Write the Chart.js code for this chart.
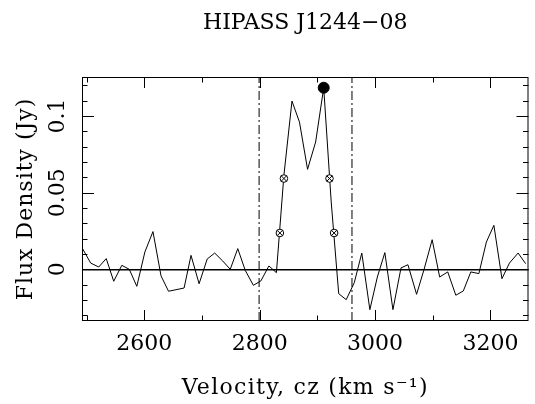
<!DOCTYPE html>
<html><head><meta charset="utf-8">
<script src="https://cdn.jsdelivr.net/npm/chart.js@4.4.0/dist/chart.umd.min.js"></script>
<style>html,body{margin:0;padding:0;background:#fff;}#wrap{width:535px;height:404px;}</style>
</head><body>
<div id="wrap"><canvas id="c" width="535" height="404"></canvas></div>
<script>
// ---- data ----
const velocities = [2492,2507,2521,2534,2547,2561,2574,2587,2601,2615,2629,2642,2655,2669,2681,2695,2709,2722,2736,2749,2762,2775,2789,2802,2816,2829,2842,2856,2869,2883,2897,2911,2924,2937,2950,2964,2977,2991,3004,3017,3031,3045,3057,3072,3085,3099,3112,3126,3140,3153,3166,3180,3193,3206,3220,3233,3248,3261];
const fluxes = [0.0141,0.0041,0.0015,0.0070,-0.0078,0.0026,0.0000,-0.0111,0.0113,0.0246,-0.0043,-0.0143,-0.0133,-0.0122,0.0091,-0.0094,0.0067,0.0106,0.0054,0.0000,0.0135,-0.0007,-0.0104,-0.0076,0.0022,-0.0022,0.0613,0.1097,0.0960,0.0652,0.0830,0.1184,0.0439,-0.0159,-0.0198,-0.0087,0.0106,-0.0263,-0.0050,0.0109,-0.0263,0.0009,0.0030,-0.0163,0.0000,0.0193,-0.0050,-0.0017,-0.0169,-0.0141,-0.0017,-0.0028,0.0178,0.0287,-0.0061,0.0041,0.0106,0.0037];
const peakVel = [2911];
const peakFlux = [0.1184];
const widthMarkVel = [2835,2842,2921,2929];
const widthMarkFlux = [0.0237,0.0592,0.0592,0.0237];
const rangeLimits = [2799,2960];
const xTickValues = [2600,2800,3000,3200];
const xTickLabels = ['2600','2800','3000','3200'];
const xMinorValues = [2500,2700,2900,3100];
const yTickValues = [0,0.05,0.1];
const yTickLabels = ['0','0.05','0.1'];
const yMinorValues = [-0.03,-0.02,-0.01,0.01,0.02,0.03,0.04,0.06,0.07,0.08,0.09,0.11,0.12];
const xMin = 2492, xMax = 3266, yMin = -0.0337, yMax = 0.1254;
const chartTitle = 'HIPASS J1244\u221208';
const xTitle = 'Velocity, cz (km s\u207B\u00B9)';
const yTitle = 'Flux Density (Jy)';

const FONT = 'DejaVu Serif';
const FS = 22;
const pts = (xs, ys) => xs.map((v, i) => ({x: v, y: ys[i]}));
const spacing = {[xTitle]: '1.3px', [yTitle]: '1px'};

const framePlugin = {
  id: 'frame',
  beforeInit(chart) {
    const ctx = chart.ctx;
    const orig = ctx.fillText;
    ctx.fillText = function (t, ...rest) {
      this.letterSpacing = spacing[t] || '0px';
      orig.call(this, t, ...rest);
      this.letterSpacing = '0px';
    };
  },
  afterDatasetsDraw(chart) {
    const {ctx, chartArea: a, scales: {x, y}} = chart;
    ctx.save();
    ctx.strokeStyle = '#000';
    ctx.lineWidth = 1;
    ctx.strokeRect(a.left + 0.5, a.top + 0.5, a.width - 1, a.height - 1);
    ctx.beginPath();
    const xt = (v, L) => {
      const p = Math.round(x.getPixelForValue(v)) + 0.5;
      ctx.moveTo(p, a.bottom); ctx.lineTo(p, a.bottom - L);
      ctx.moveTo(p, a.top); ctx.lineTo(p, a.top + L);
    };
    const yt = (v, L) => {
      const p = Math.round(y.getPixelForValue(v)) + 0.5;
      ctx.moveTo(a.left, p); ctx.lineTo(a.left + L, p);
      ctx.moveTo(a.right, p); ctx.lineTo(a.right - L, p);
    };
    xTickValues.forEach(v => xt(v, 11));
    xMinorValues.forEach(v => xt(v, 5.5));
    yTickValues.forEach(v => yt(v, 12));
    yMinorValues.forEach(v => yt(v, 5.5));
    ctx.stroke();
    // rotated y tick labels
    ctx.fillStyle = '#000';
    ctx.font = FS + 'px "' + FONT + '"';
    ctx.textAlign = 'center';
    ctx.textBaseline = 'middle';
    yTickValues.forEach((v, i) => {
      ctx.save();
      ctx.translate(58.5, y.getPixelForValue(v));
      ctx.rotate(-Math.PI / 2);
      ctx.fillText(yTickLabels[i], 0, 0);
      ctx.restore();
    });
    ctx.restore();
  }
};

new Chart(document.getElementById('c'), {
  type: 'line',
  data: {
    datasets: [
      {data: pts(peakVel, peakFlux), showLine: false, pointStyle: 'circle', pointRadius: 5.5,
       pointBackgroundColor: '#000', pointBorderColor: '#000', pointBorderWidth: 1},
      {data: pts(widthMarkVel, widthMarkFlux), showLine: false, pointStyle: 'crossRot', pointRadius: 3.8,
       pointBorderColor: '#000', pointBorderWidth: 1},
      {data: pts(widthMarkVel, widthMarkFlux), showLine: false, pointStyle: 'circle', pointRadius: 3.8,
       pointBackgroundColor: '#fff', pointBorderColor: '#000', pointBorderWidth: 1},
      {data: pts(velocities, fluxes), borderColor: '#000', borderWidth: 1, pointRadius: 0, tension: 0, fill: false},
      {data: pts([rangeLimits[0], rangeLimits[0]], [yMin, yMax]), borderColor: '#000', borderWidth: 1,
       borderDash: [9, 3, 2, 3], pointRadius: 0},
      {data: pts([rangeLimits[1], rangeLimits[1]], [yMin, yMax]), borderColor: '#000', borderWidth: 1,
       borderDash: [9, 3, 2, 3], pointRadius: 0}
    ]
  },
  options: {
    responsive: false,
    devicePixelRatio: 1,
    animation: false,
    layout: {padding: {left: 0, right: 3, top: 0, bottom: 0}},
    plugins: {
      legend: {display: false},
      tooltip: {enabled: false},
      title: {display: true, text: chartTitle, fullSize: false, color: '#000',
        font: {family: FONT, size: FS, weight: 'normal'}, padding: {top: 10, bottom: 40.6}}
    },
    scales: {
      x: {
        type: 'linear', min: xMin, max: xMax,
        afterFit: s => { s.height = 83; s.paddingLeft = 0; s.paddingRight = 0; },
        afterBuildTicks: s => { s.ticks = xTickValues.map(v => ({value: v})); },
        ticks: {callback: (v, i) => xTickLabels[i], color: '#000', font: {family: FONT, size: FS},
          padding: 10, maxRotation: 0, autoSkip: false},
        grid: {display: false, drawTicks: false},
        border: {display: false},
        title: {display: true, text: xTitle, color: '#000', font: {family: FONT, size: FS},
          padding: {top: 0, bottom: 3}}
      },
      y: {
        type: 'linear', min: yMin, max: yMax,
        afterFit: s => { s.width = 82; s.paddingTop = 0; s.paddingBottom = 0; },
        afterBuildTicks: s => { s.ticks = yTickValues.map(v => ({value: v})); },
        ticks: {display: false},
        grid: {drawTicks: false, color: c => (c.tick && c.tick.value === 0) ? '#000' : 'rgba(0,0,0,0)', lineWidth: 1.6},
        border: {display: false},
        title: {display: true, text: yTitle, color: '#000', font: {family: FONT, size: FS},
          padding: {top: 13, bottom: 0}}
      }
    }
  },
  plugins: [framePlugin]
});
</script>
</body></html>
